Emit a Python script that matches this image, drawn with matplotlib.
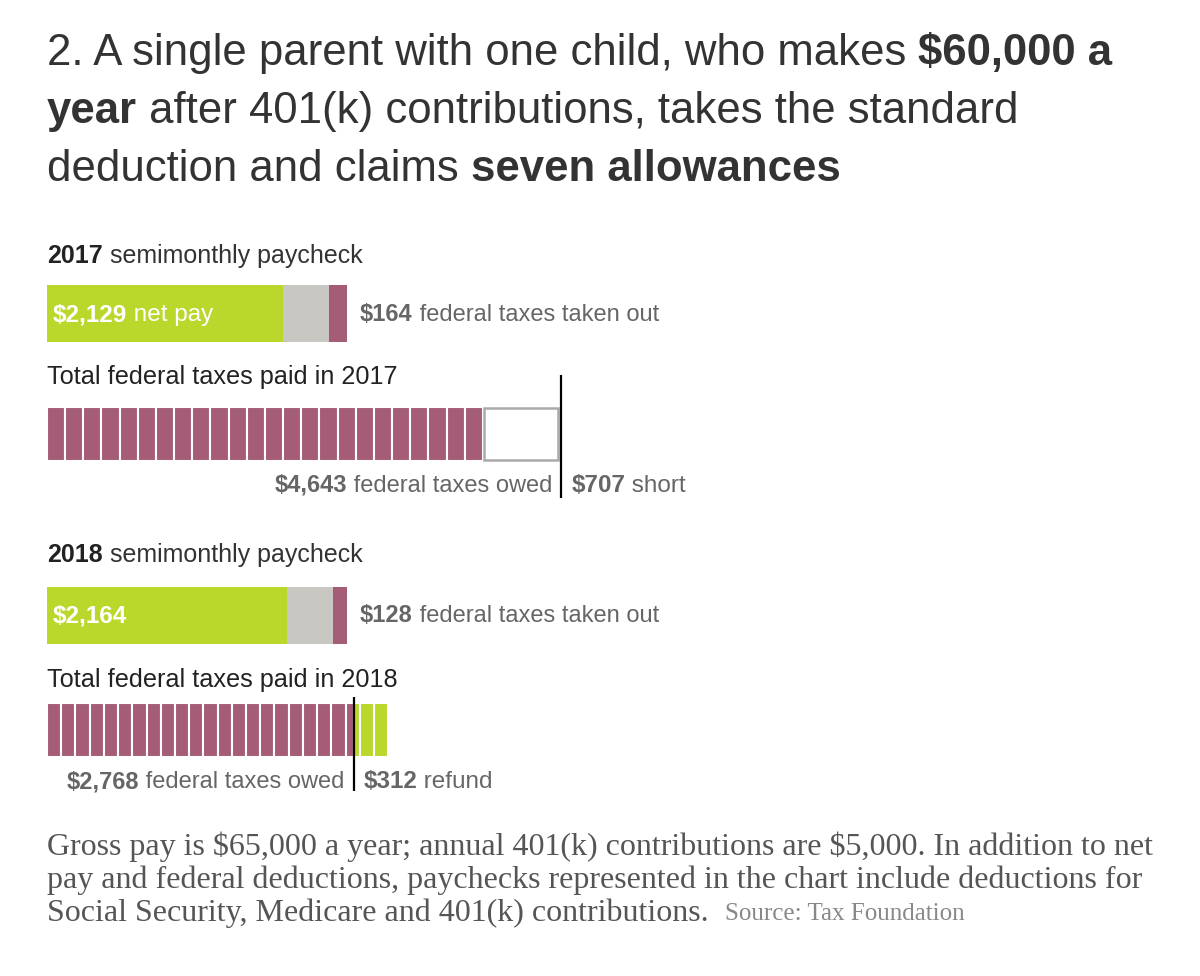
import matplotlib
matplotlib.use("Agg")
import matplotlib.pyplot as plt

# --- data ---
gross_semimonthly = 65000 / 24
years = ["2017", "2018"]
net_pay = [2129, 2164]
fed_per_check = [164, 128]
taxes_owed = [4643, 2768]
balance = [707, 312]          # short (2017) / refund (2018)
balance_word = ["short", "refund"]
n_checks = 24

title_parts = [
    [("2. A single parent with one child, who makes ", "normal"), ("$60,000 a", "bold")],
    [("year", "bold"), (" after 401(k) contributions, takes the standard", "normal")],
    [("deduction and claims ", "normal"), ("seven allowances", "bold")],
]
footnote = [
    "Gross pay is $65,000 a year; annual 401(k) contributions are $5,000. In addition to net",
    "pay and federal deductions, paychecks represented in the chart include deductions for",
    "Social Security, Medicare and 401(k) contributions.",
]
source = "Source: Tax Foundation"

GREEN = "#bad72c"
GRAY = "#c8c7c1"
PURPLE = "#a55c77"
TXT = "#333333"
MID = "#666666"

W, H = 1200, 976
X0 = 47
SCALE = 300 / gross_semimonthly  # px per dollar

plt.rcParams["font.family"] = ["Liberation Sans", "DejaVu Sans"]
plt.rcParams["text.parse_math"] = False
fig = plt.figure(figsize=(W / 100, H / 100), dpi=100)
ax = fig.add_axes([0, 0, 1, 1])
ax.set_xlim(-X0 / SCALE, (W - X0) / SCALE)
ax.set_ylim(H, 0)
ax.axis("off")
fig.canvas.draw()
renderer = fig.canvas.get_renderer()


def px(d):
    return X0 + d * SCALE


def rich(x, y, parts, size, ha="left", family=None):
    # draw a run of (text, weight, color) pieces next to each other, y = baseline in px
    kw = {} if family is None else {"family": family}
    arts = []
    for s, w, c in parts:
        t = fig.text(0, 0, s, fontsize=size, fontweight=w, color=c, va="baseline", **kw)
        arts.append(t)
    widths = [t.get_window_extent(renderer).width for t in arts]
    if ha == "right":
        x = x - sum(widths)
    for t, w in zip(arts, widths):
        t.set_position((x / W, 1 - y / H))
        x += w
    return x


# title
for i, line in enumerate(title_parts):
    rich(X0, 65 + i * 58, [(s, w, TXT) for s, w in line], 31.5)

rows = [
    dict(label_y=263, pay_y=313.5, total_y=384, ann_y=434, sub_y=492, line=(375, 498)),
    dict(label_y=562, pay_y=615, total_y=687, ann_y=730, sub_y=788, line=(697, 791)),
]

for k, r in enumerate(rows):
    rich(X0, r["label_y"], [(years[k], "bold", "#222222"), (" semimonthly paycheck", "normal", TXT)], 18)

    # paycheck bar
    other = gross_semimonthly - net_pay[k] - fed_per_check[k]
    ax.barh(r["pay_y"], net_pay[k], left=0, height=57, color=GREEN, lw=0)
    ax.barh(r["pay_y"], other, left=net_pay[k], height=57, color=GRAY, lw=0)
    ax.barh(r["pay_y"], fed_per_check[k], left=net_pay[k] + other, height=57, color=PURPLE, lw=0)
    inner = [(f"${net_pay[k]:,}", "bold", "white")]
    if k == 0:
        inner.append((" net pay", "normal", "white"))
    rich(px(0) + 6, r["pay_y"] + 8, inner, 17.5)
    rich(px(gross_semimonthly) + 13, r["pay_y"] + 7,
         [(f"${fed_per_check[k]}", "bold", MID), (" federal taxes taken out", "normal", MID)], 17)

    rich(X0, r["total_y"], [(f"Total federal taxes paid in {years[k]}", "normal", "#222222")], 18.2)

    # annual blocks: 24 paychecks' worth of withholding, purple up to what is owed
    owed = taxes_owed[k]
    paid = owed - balance[k] if k == 0 else owed + balance[k]
    step = paid / n_checks
    for j in range(n_checks):
        a, b = j * step, (j + 1) * step
        if b <= owed:
            ax.barh(r["ann_y"], b - a, left=a, height=54, color=PURPLE, edgecolor="white", lw=1.5)
        elif a >= owed:
            ax.barh(r["ann_y"], b - a, left=a, height=54, color=GREEN, edgecolor="white", lw=1.5)
        else:
            ax.barh(r["ann_y"], owed - a, left=a, height=54, color=PURPLE, edgecolor="white", lw=1.5)
            ax.barh(r["ann_y"], b - owed, left=owed, height=54, color=GREEN, edgecolor="white", lw=1.5)
    if owed > paid:
        ax.barh(r["ann_y"], owed - paid - 40, left=paid + 10, height=52, color="white",
                edgecolor="#aaaaaa", lw=1.8)
    ax.vlines(owed, r["line"][0], r["line"][1], color="black", lw=1.6)

    rich(px(owed) - 9, r["sub_y"], [(f"${owed:,}", "bold", MID), (" federal taxes owed", "normal", MID)],
         17, ha="right")
    rich(px(owed) + 10, r["sub_y"],
         [(f"${balance[k]:,}", "bold", MID), (" " + balance_word[k], "normal", MID)], 17.5)

# footnote
for i, s in enumerate(footnote):
    end = rich(X0, 855 + i * 33, [(s, "normal", "#555555")], 23, family="Liberation Serif")
rich(end + 16, 920, [(source, "normal", "#888888")], 18, family="Liberation Serif")

fig.savefig("out.png", dpi=100, facecolor="white")
